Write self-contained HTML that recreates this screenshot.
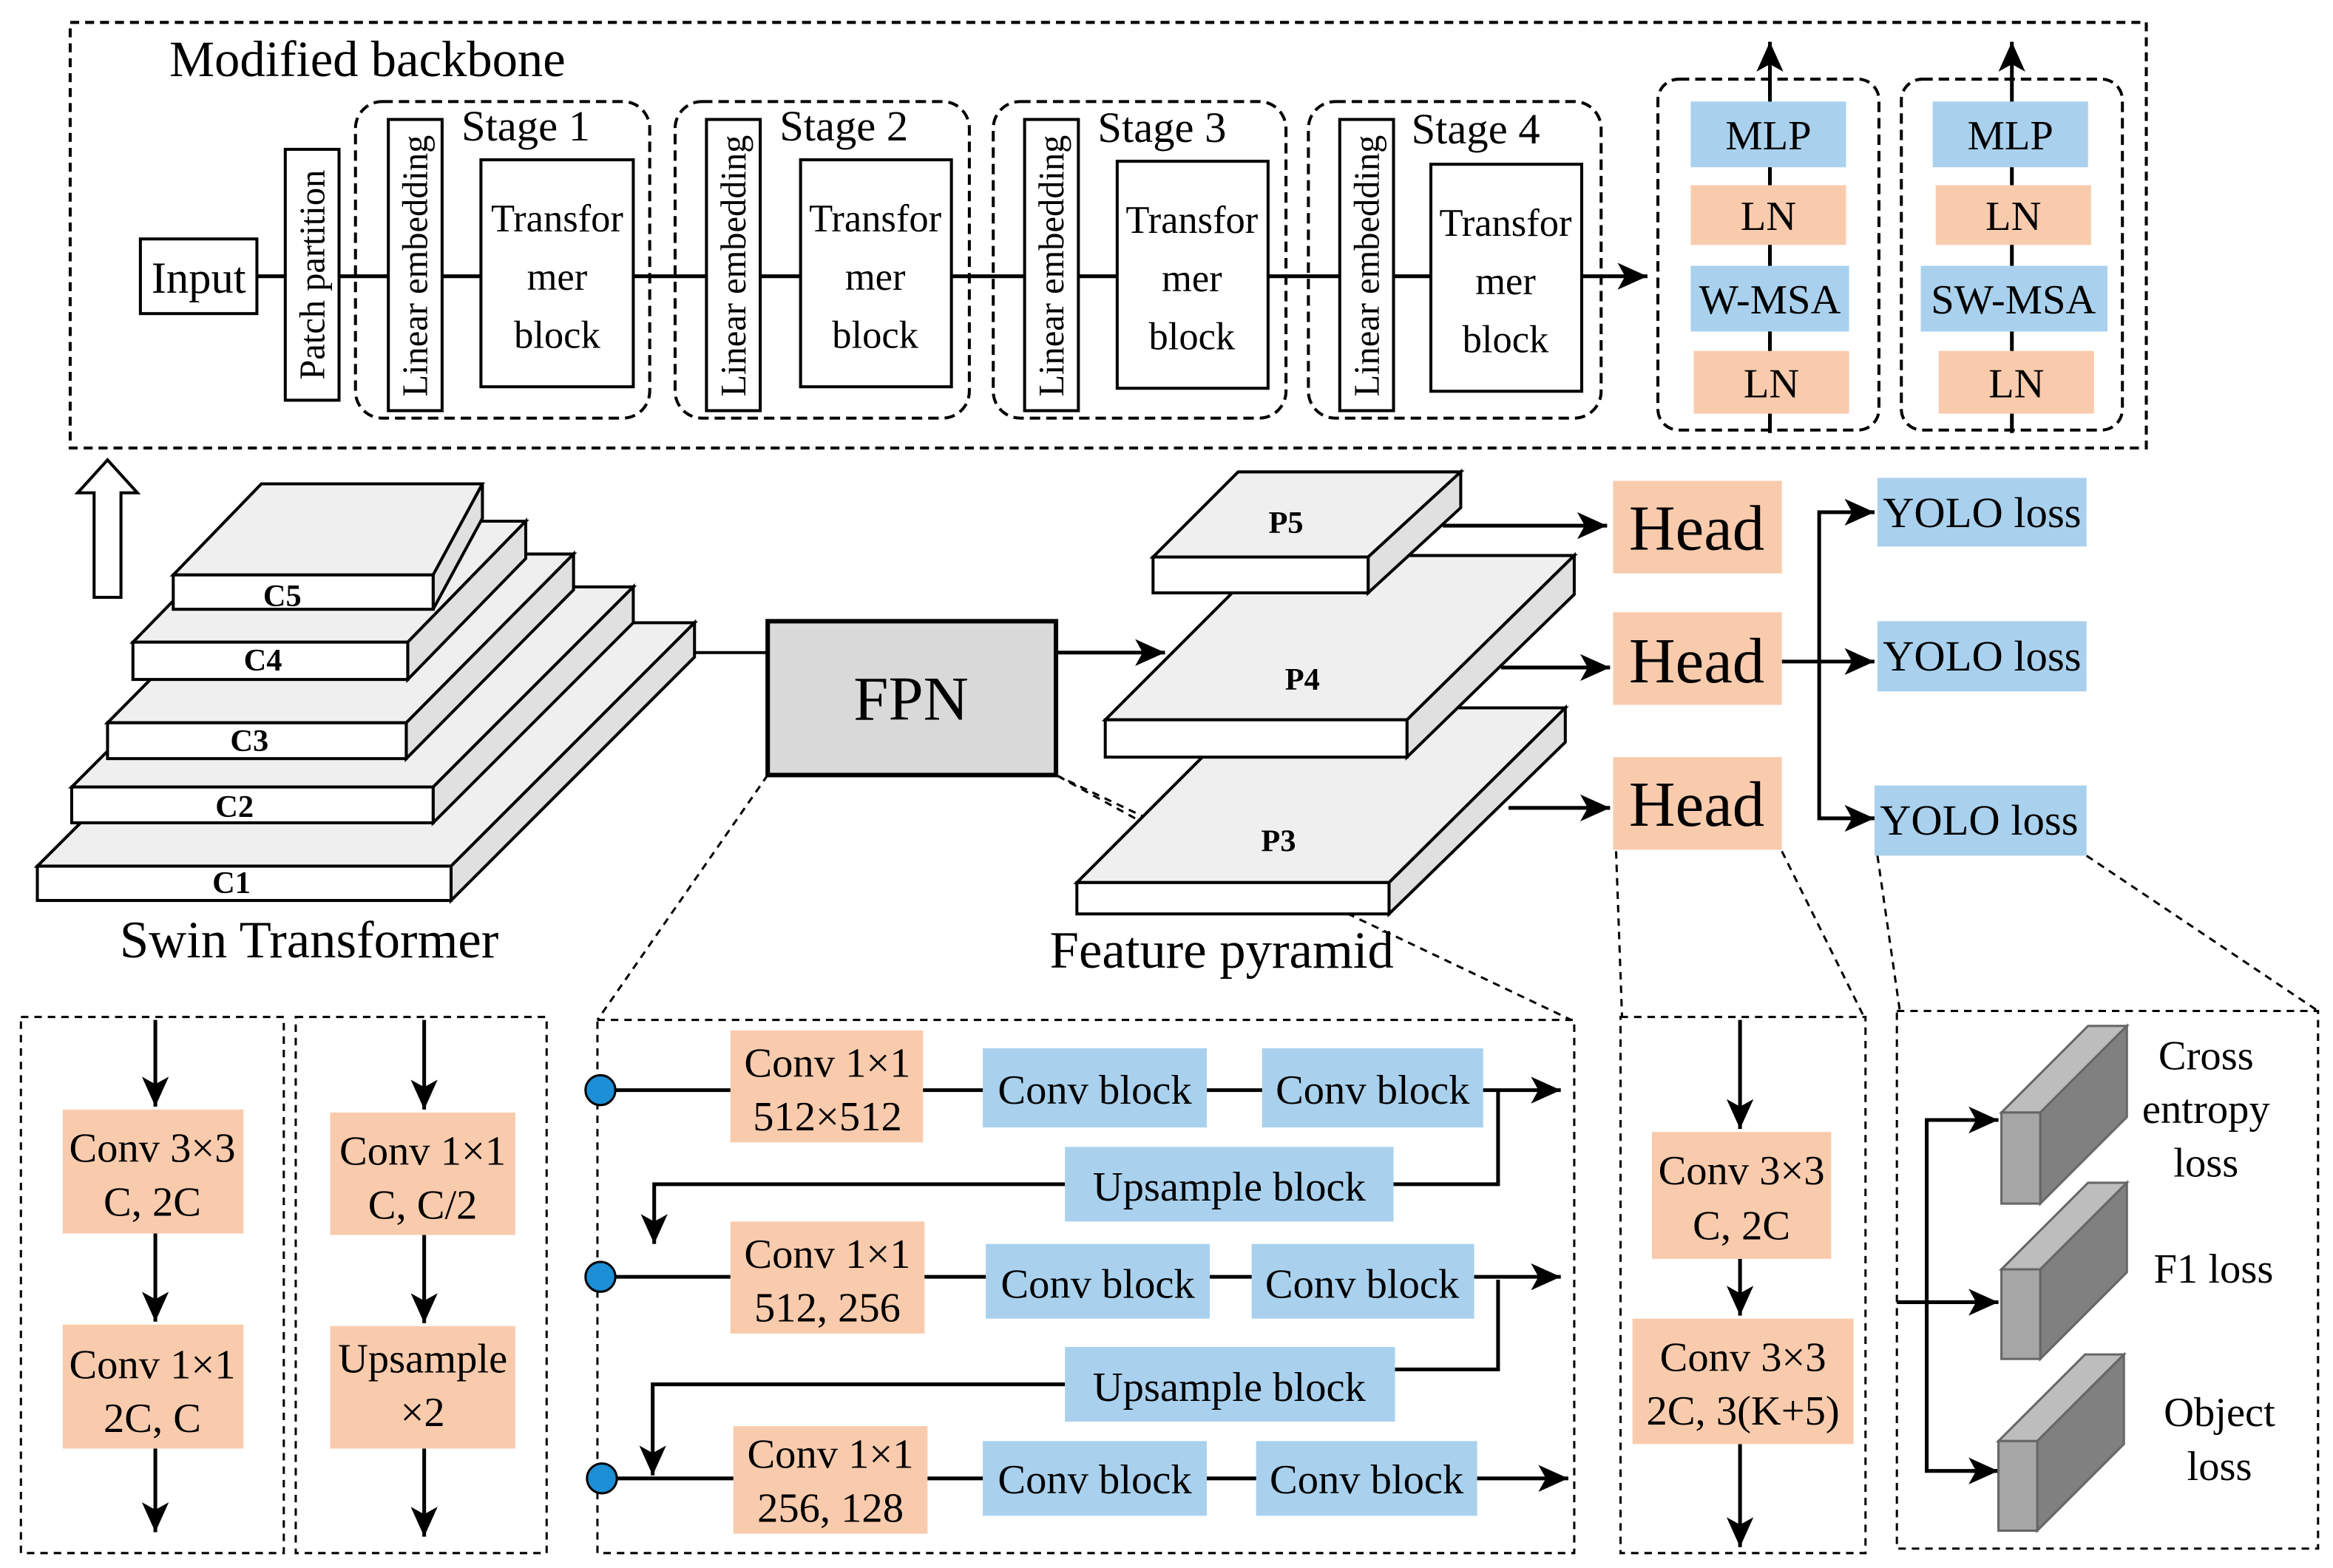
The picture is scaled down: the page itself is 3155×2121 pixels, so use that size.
<!DOCTYPE html>
<html><head><meta charset="utf-8"><style>
html,body{margin:0;padding:0;background:#fff;}
svg{display:block;}
text{font-family:"Liberation Serif",serif;fill:#000;}
</style></head><body>
<svg width="3155" height="2121" viewBox="0 0 1562 1050" preserveAspectRatio="none" xmlns="http://www.w3.org/2000/svg">
<defs>
<marker id="ahb" markerWidth="22" markerHeight="18" refX="20" refY="9" orient="auto" markerUnits="userSpaceOnUse"><path d="M0,0 L20,9 L0,18 L5,9 z" fill="#000"/></marker>
</defs>
<g stroke="#000" stroke-width="2" fill="none">
<rect x="47" y="15" width="1390" height="285" stroke-dasharray="6,4"/>
<line x1="172" y1="185" x2="1103" y2="185" marker-end="url(#ahb)" stroke-width="2.5"/>
<rect x="94" y="160" width="78" height="50" fill="#fff"/>
<rect x="191" y="100" width="36" height="168" fill="#fff"/>
<rect x="238" y="68" width="197" height="212" rx="18" stroke-dasharray="7,4"/>
<rect x="452" y="68" width="197" height="212" rx="18" stroke-dasharray="7,4"/>
<rect x="665" y="68" width="196" height="212" rx="18" stroke-dasharray="7,4"/>
<rect x="876" y="68" width="196" height="212" rx="18" stroke-dasharray="7,4"/>
<rect x="260" y="80" width="36" height="195" fill="#fff"/>
<rect x="473" y="80" width="36" height="195" fill="#fff"/>
<rect x="686" y="80" width="36" height="195" fill="#fff"/>
<rect x="897" y="80" width="36" height="195" fill="#fff"/>
<rect x="322" y="107" width="102" height="152" fill="#fff"/>
<rect x="536" y="107" width="101" height="152" fill="#fff"/>
<rect x="748" y="108" width="101" height="152" fill="#fff"/>
<rect x="958" y="110" width="101" height="152" fill="#fff"/>
<rect x="1110" y="53" width="148" height="235" rx="14" stroke-dasharray="7,4"/>
<rect x="1273" y="53" width="148" height="235" rx="14" stroke-dasharray="7,4"/>
<line x1="1185" y1="290" x2="1185" y2="28" marker-end="url(#ahb)" stroke-width="2.5"/>
<line x1="1347" y1="290" x2="1347" y2="28" marker-end="url(#ahb)" stroke-width="2.5"/>
</g>
<g stroke="none">
<rect x="1132" y="68" width="104" height="44" fill="#A9D1EE"/>
<rect x="1132" y="124" width="104" height="40" fill="#F9CBAD"/>
<rect x="1132" y="178" width="106" height="44" fill="#A9D1EE"/>
<rect x="1134" y="235" width="104" height="42" fill="#F9CBAD"/>
<rect x="1294" y="68" width="104" height="44" fill="#A9D1EE"/>
<rect x="1296" y="124" width="104" height="40" fill="#F9CBAD"/>
<rect x="1286" y="178" width="125" height="44" fill="#A9D1EE"/>
<rect x="1298" y="235" width="104" height="42" fill="#F9CBAD"/>
</g>
<g font-size="28" text-anchor="middle">
<text x="246" y="51" font-size="34">Modified backbone</text>
<text x="133" y="196" font-size="30">Input</text>
<text transform="translate(217,184) rotate(-90)" font-size="24">Patch partition</text>
<text transform="translate(286,178) rotate(-90)" font-size="24">Linear embedding</text>
<text transform="translate(499,178) rotate(-90)" font-size="24">Linear embedding</text>
<text transform="translate(712,178) rotate(-90)" font-size="24">Linear embedding</text>
<text transform="translate(923,178) rotate(-90)" font-size="24">Linear embedding</text>
<text x="352" y="94" font-size="29">Stage 1</text>
<text x="565" y="94" font-size="29">Stage 2</text>
<text x="778" y="95" font-size="29">Stage 3</text>
<text x="988" y="96" font-size="29">Stage 4</text>
<g font-size="26">
<text x="373" y="155">Transfor</text><text x="373" y="194">mer</text><text x="373" y="233">block</text>
<text x="586" y="155">Transfor</text><text x="586" y="194">mer</text><text x="586" y="233">block</text>
<text x="798" y="156">Transfor</text><text x="798" y="195">mer</text><text x="798" y="234">block</text>
<text x="1008" y="158">Transfor</text><text x="1008" y="197">mer</text><text x="1008" y="236">block</text>
</g>
<text x="1184" y="100">MLP</text><text x="1184" y="154">LN</text><text x="1185" y="210">W-MSA</text><text x="1186" y="266">LN</text>
<text x="1346" y="100">MLP</text><text x="1348" y="154">LN</text><text x="1348" y="210">SW-MSA</text><text x="1350" y="266">LN</text>
</g>
<path d="M63,400 L81,400 L81,330 L92,330 L72,308 L52,330 L63,330 Z" fill="#fff" stroke="#000" stroke-width="2"/>
<g stroke="#000" stroke-width="2" fill="#EFEFEF">
<line x1="465" y1="437" x2="514" y2="437"/>
<polygon points="25,580 188,417 465,417 302,580"/><polygon points="302,580 465,417 465,440 302,603" fill="#E0E0E0"/><rect x="25" y="580" width="277" height="23" fill="#fff"/>
<polygon points="48,527 182,393 424,393 290,527"/><polygon points="290,527 424,393 424,417 290,551" fill="#E0E0E0"/><rect x="48" y="527" width="242" height="24" fill="#fff"/>
<polygon points="72,484 184,371 384,371 272,484"/><polygon points="272,484 384,371 384,395 272,508" fill="#E0E0E0"/><rect x="72" y="484" width="200" height="24" fill="#fff"/>
<polygon points="89,430 168,349 352,349 273,430"/><polygon points="273,430 352,349 352,374 273,455" fill="#E0E0E0"/><rect x="89" y="430" width="184" height="25" fill="#fff"/>
<polygon points="116,385 175,324 323,324 290,385"/><polygon points="290,385 323,324 323,347 290,408" fill="#E0E0E0"/><rect x="116" y="385" width="174" height="23" fill="#fff"/>
</g>
<g font-size="21" font-weight="bold" text-anchor="middle">
<text x="155" y="598">C1</text><text x="157" y="547">C2</text><text x="167" y="503">C3</text><text x="176" y="449">C4</text><text x="189" y="406">C5</text>
</g>
<text x="207" y="641" font-size="35" text-anchor="middle">Swin Transformer</text>
<g stroke="#000" stroke-width="1.5" stroke-dasharray="5,4" fill="none">
<line x1="514" y1="519" x2="400" y2="683"/>
<line x1="707" y1="519" x2="1052" y2="683"/>
<line x1="1082" y1="570" x2="1086" y2="681"/>
<line x1="1193" y1="570" x2="1248" y2="681"/>
<line x1="1257" y1="573" x2="1272" y2="677"/>
<line x1="1397" y1="573" x2="1552" y2="677"/>
</g>
<rect x="514" y="416" width="193" height="103" fill="#D9D9D9" stroke="#000" stroke-width="3"/>
<text x="610" y="482" font-size="42" text-anchor="middle">FPN</text>
<line x1="707" y1="437" x2="780" y2="437" stroke="#000" stroke-width="2.5" marker-end="url(#ahb)"/>
<g stroke="#000" stroke-width="2" fill="#EFEFEF">
<polygon points="721,591 838,474 1048,474 930,591"/><polygon points="930,591 1048,474 1048,497 930,612" fill="#E0E0E0"/><rect x="721" y="591" width="209" height="21" fill="#fff"/>
<polygon points="740,482 850,372 1054,372 942,482"/><polygon points="942,482 1054,372 1054,398 942,507" fill="#E0E0E0"/><rect x="740" y="482" width="202" height="25" fill="#fff"/>
<polygon points="772,373 829,316 978,316 916,373"/><polygon points="916,373 978,316 978,340 916,397" fill="#E0E0E0"/><rect x="772" y="373" width="144" height="24" fill="#fff"/>
</g>
<g font-size="21" font-weight="bold" text-anchor="middle">
<text x="861" y="357">P5</text><text x="872" y="462">P4</text><text x="856" y="570">P3</text>
</g>
<line x1="760" y1="548" x2="707" y2="519" stroke="#000" stroke-width="1.5" stroke-dasharray="5,4"/>
<text x="818" y="648" font-size="35" text-anchor="middle">Feature pyramid</text>
<g stroke="#000" stroke-width="2.5" fill="none">
<line x1="966" y1="352" x2="1076" y2="352" marker-end="url(#ahb)"/>
<line x1="1005" y1="447" x2="1078" y2="447" marker-end="url(#ahb)"/>
<line x1="1010" y1="541" x2="1078" y2="541" marker-end="url(#ahb)"/>
<line x1="1193" y1="443" x2="1255" y2="443" marker-end="url(#ahb)"/>
<polyline points="1255,343 1218,343 1218,548 1255,548"/>
<line x1="1240" y1="343" x2="1255" y2="343" marker-end="url(#ahb)"/>
<line x1="1240" y1="548" x2="1255" y2="548" marker-end="url(#ahb)"/>
</g>
<g fill="#F9CBAD"><rect x="1080" y="322" width="113" height="62"/><rect x="1080" y="410" width="113" height="62"/><rect x="1080" y="507" width="113" height="62"/></g>
<g fill="#A9D1EE"><rect x="1257" y="320" width="140" height="46"/><rect x="1257" y="416" width="140" height="47"/><rect x="1255" y="526" width="142" height="47"/></g>
<g font-size="43" text-anchor="middle"><text x="1136" y="368">Head</text><text x="1136" y="457">Head</text><text x="1136" y="553">Head</text></g>
<g font-size="29" text-anchor="middle"><text x="1327" y="353">YOLO loss</text><text x="1327" y="449">YOLO loss</text><text x="1325" y="559">YOLO loss</text></g>
<g stroke="#000" stroke-width="1.5" stroke-dasharray="5,4" fill="none">
<rect x="14" y="681" width="176" height="359"/>
<rect x="198" y="681" width="168" height="359"/>
<rect x="400" y="683" width="654" height="357"/>
<rect x="1085" y="681" width="164" height="359"/>
<rect x="1270" y="677" width="282" height="360"/>
</g>
<g stroke="#000" stroke-width="2.5" fill="none">
<line x1="104" y1="683" x2="104" y2="741" marker-end="url(#ahb)"/>
<line x1="104" y1="826" x2="104" y2="885" marker-end="url(#ahb)"/>
<line x1="104" y1="970" x2="104" y2="1026" marker-end="url(#ahb)"/>
<line x1="284" y1="683" x2="284" y2="743" marker-end="url(#ahb)"/>
<line x1="284" y1="827" x2="284" y2="886" marker-end="url(#ahb)"/>
<line x1="284" y1="970" x2="284" y2="1029" marker-end="url(#ahb)"/>
<line x1="1165" y1="683" x2="1165" y2="756" marker-end="url(#ahb)"/>
<line x1="1165" y1="843" x2="1165" y2="881" marker-end="url(#ahb)"/>
<line x1="1165" y1="967" x2="1165" y2="1036" marker-end="url(#ahb)"/>
<line x1="402" y1="730" x2="1045" y2="730" marker-end="url(#ahb)"/>
<polyline points="1003,730 1003,793 933,793"/>
<polyline points="713,793 438,793 438,833" marker-end="url(#ahb)"/>
<line x1="402" y1="855" x2="1045" y2="855" marker-end="url(#ahb)"/>
<polyline points="1003,857 1003,917 934,917"/>
<polyline points="713,927 437,927 437,988" marker-end="url(#ahb)"/>
<line x1="402" y1="990" x2="1050" y2="990" marker-end="url(#ahb)"/>
<line x1="1270" y1="872" x2="1338" y2="872" marker-end="url(#ahb)"/>
<polyline points="1338,750 1290,750 1290,985 1338,985"/>
<line x1="1320" y1="750" x2="1338" y2="750" marker-end="url(#ahb)"/>
<line x1="1320" y1="985" x2="1338" y2="985" marker-end="url(#ahb)"/>
</g>
<g fill="#F9CBAD">
<rect x="42" y="743" width="121" height="83"/><rect x="42" y="887" width="121" height="83"/>
<rect x="221" y="745" width="124" height="82"/><rect x="221" y="888" width="124" height="82"/>
<rect x="489" y="690" width="129" height="75"/><rect x="489" y="818" width="130" height="75"/><rect x="491" y="955" width="130" height="72"/>
<rect x="1106" y="758" width="120" height="85"/><rect x="1093" y="883" width="148" height="84"/>
</g>
<g fill="#A9D1EE">
<rect x="658" y="702" width="150" height="53"/><rect x="845" y="702" width="148" height="53"/>
<rect x="713" y="768" width="220" height="50"/>
<rect x="660" y="833" width="150" height="50"/><rect x="838" y="833" width="149" height="50"/>
<rect x="713" y="902" width="221" height="50"/>
<rect x="658" y="965" width="150" height="50"/><rect x="841" y="965" width="148" height="50"/>
</g>
<g fill="#1C8FD6" stroke="#000" stroke-width="1.5">
<circle cx="402" cy="730" r="10"/><circle cx="402" cy="855" r="10"/><circle cx="403" cy="990" r="10"/>
</g>
<g font-size="28" text-anchor="middle">
<text x="102" y="778">Conv 3×3</text><text x="102" y="814">C, 2C</text>
<text x="102" y="923">Conv 1×1</text><text x="102" y="959">2C, C</text>
<text x="283" y="780">Conv 1×1</text><text x="283" y="816">C, C/2</text>
<text x="283" y="919">Upsample</text><text x="283" y="955">×2</text>
<text x="554" y="721">Conv 1×1</text><text x="554" y="757">512×512</text>
<text x="554" y="849">Conv 1×1</text><text x="554" y="885">512, 256</text>
<text x="556" y="983">Conv 1×1</text><text x="556" y="1019">256, 128</text>
<text x="733" y="739">Conv block</text><text x="919" y="739">Conv block</text>
<text x="823" y="804">Upsample block</text>
<text x="735" y="869">Conv block</text><text x="912" y="869">Conv block</text>
<text x="823" y="938">Upsample block</text>
<text x="733" y="1000">Conv block</text><text x="915" y="1000">Conv block</text>
<text x="1166" y="793">Conv 3×3</text><text x="1166" y="830">C, 2C</text>
<text x="1167" y="918">Conv 3×3</text><text x="1167" y="954">2C, 3(K+5)</text>
<text x="1477" y="716">Cross</text><text x="1477" y="752">entropy</text><text x="1477" y="788">loss</text>
<text x="1482" y="859">F1 loss</text>
<text x="1486" y="955">Object</text><text x="1486" y="991">loss</text>
</g>
<g stroke="#666" stroke-width="1.5">
<g><polygon points="1340,745 1398,687 1424,687 1366,745" fill="#BDBDBD"/><polygon points="1366,745 1424,687 1424,748 1366,806" fill="#808080"/><rect x="1340" y="745" width="26" height="61" fill="#A6A6A6"/></g>
<g><polygon points="1340,850 1398,792 1424,792 1366,850" fill="#BDBDBD"/><polygon points="1366,850 1424,792 1424,852 1366,910" fill="#808080"/><rect x="1340" y="850" width="26" height="60" fill="#A6A6A6"/></g>
<g><polygon points="1338,965 1396,907 1422,907 1364,965" fill="#BDBDBD"/><polygon points="1364,965 1422,907 1422,967 1364,1025" fill="#808080"/><rect x="1338" y="965" width="26" height="60" fill="#A6A6A6"/></g>
</g>
</svg>
</body></html>
